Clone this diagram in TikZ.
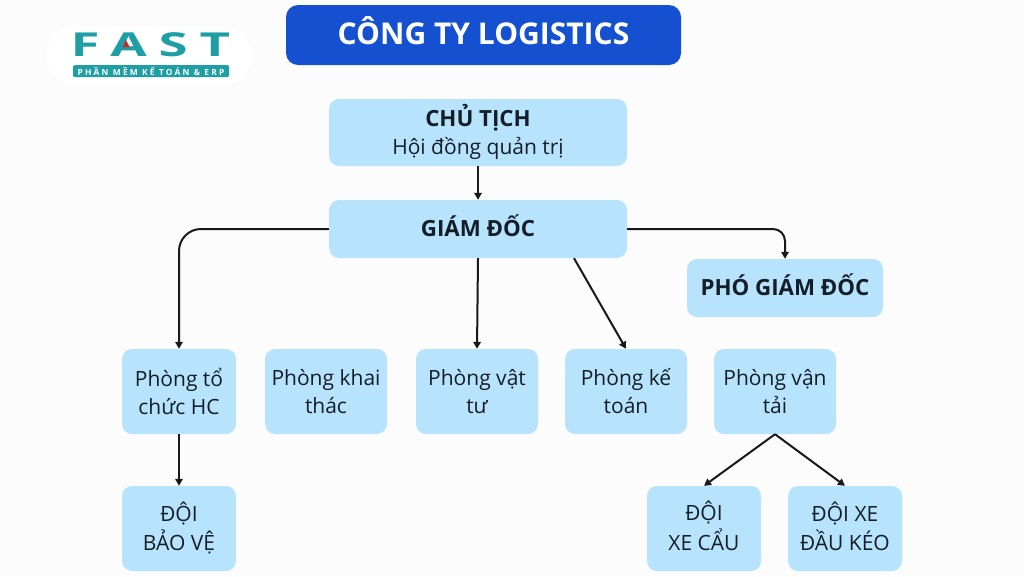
\documentclass[tikz,border=0pt]{standalone}
\usepackage{fontspec}
\setmainfont{Open Sans}
\newfontfamily\logofont[FakeStretch=1.6,LetterSpace=36]{Open Sans}
\newfontfamily\stripfont[LetterSpace=26]{Open Sans}
\usetikzlibrary{arrows.meta,calc}
\definecolor{bgc}{HTML}{FCFCFC}
\definecolor{boxc}{HTML}{B8E3FC}
\definecolor{titlec}{HTML}{1450D0}
\definecolor{tealc}{HTML}{1E9FA5}
\definecolor{inkc}{HTML}{141E28}
\tikzset{
  x=1pt,y=-1pt,
  orgbox/.style={fill=boxc,rounded corners=10pt,align=center,inner sep=0pt,text=inkc,font=\fontsize{21}{28}\selectfont},
  link/.style={draw=black!90,line width=2pt,-{Triangle[length=7pt,width=7.5pt]}},
}
\newcommand{\placebox}[6]{\node[orgbox,minimum width=#4pt,minimum height=#5pt] (#1) at (#2,#3) {#6};}
\newcommand{\upby}[2]{\raisebox{#1}[\height][\depth]{\begin{tabular}{@{}c@{}}#2\end{tabular}}}
\newcommand{\boldhead}[1]{{\fontsize{22.3}{28}\selectfont\bfseries #1}}
\begin{document}
\begin{tikzpicture}
\useasboundingbox (0,0) rectangle (1024,576);
\fill[bgc] (0,0) rectangle (1024,576);
% logo
\node[fill=white,rounded corners=28pt,minimum width=206pt,minimum height=57pt,inner sep=0pt] (logobg) at (149,55.5) {};
\node[text=tealc,inner sep=0pt,font=\logofont\bfseries\fontsize{33}{33}\selectfont] (fast) at (150.5,45) {FAST};
\node[fill=tealc,text=white,rounded corners=1.5pt,minimum width=156pt,minimum height=12pt,inner sep=0pt,font=\stripfont\bfseries\fontsize{8.4}{10}\selectfont] (strip) at (151,71) {PHẦN MỀM KẾ TOÁN \& ERP};
\fill[red!75!black!85] (126,40) -- (129.5,47) -- (122.5,47) -- cycle;
% title
\node[fill=titlec,rounded corners=12pt,minimum width=395pt,minimum height=60pt,inner sep=0pt,text=white,font=\fontsize{30}{34}\selectfont\bfseries] (title) at (483.5,35) {\upby{-0.5pt}{CÔNG TY LOGISTICS}};
% boxes
\placebox{chu}{478}{132.5}{298}{67}{\upby{-1.5pt}{\boldhead{CHỦ TỊCH}\\Hội đồng quản trị}}
\placebox{gd}{478}{229}{298}{58}{\upby{-1pt}{\boldhead{GIÁM ĐỐC}}}
\placebox{pho}{785}{288}{196}{58}{\upby{-1pt}{\boldhead{PHÓ GIÁM ĐỐC}}}
\placebox{tc}{179}{391.5}{114}{85}{Phòng tổ\\chức HC}
\placebox{kt}{326}{391.5}{122}{85}{Phòng khai\\thác}
\placebox{vt}{477}{391.5}{122}{85}{Phòng vật\\tư}
\placebox{ketoan}{626}{391.5}{122}{85}{Phòng kế\\toán}
\placebox{tai}{775}{391.5}{122}{85}{Phòng vận\\tải}
\placebox{bv}{179}{528.5}{114}{85}{\upby{-1.5pt}{ĐỘI\\BẢO VỆ}}
\placebox{cau}{704}{528.5}{114}{85}{\upby{-1.5pt}{ĐỘI\\XE CẨU}}
\placebox{keo}{845}{528.5}{114}{85}{\upby{-1.5pt}{ĐỘI XE\\ĐẦU KÉO}}
% connectors
\draw[link] (chu.south) -- (gd.north);
\draw[link,rounded corners=22pt] (gd.west) -| (tc.north);
\draw[link,rounded corners=12pt] (gd.east) -| (pho.north);
\draw[link] (gd.south) -- (vt.north);
\draw[link] ([xshift=96pt]gd.south) -- (ketoan.north);
\draw[link] (tc.south) -- (bv.north);
\draw[link] (tai.south) -- (cau.north);
\draw[link] (tai.south) -- (keo.north);
\end{tikzpicture}
\end{document}
